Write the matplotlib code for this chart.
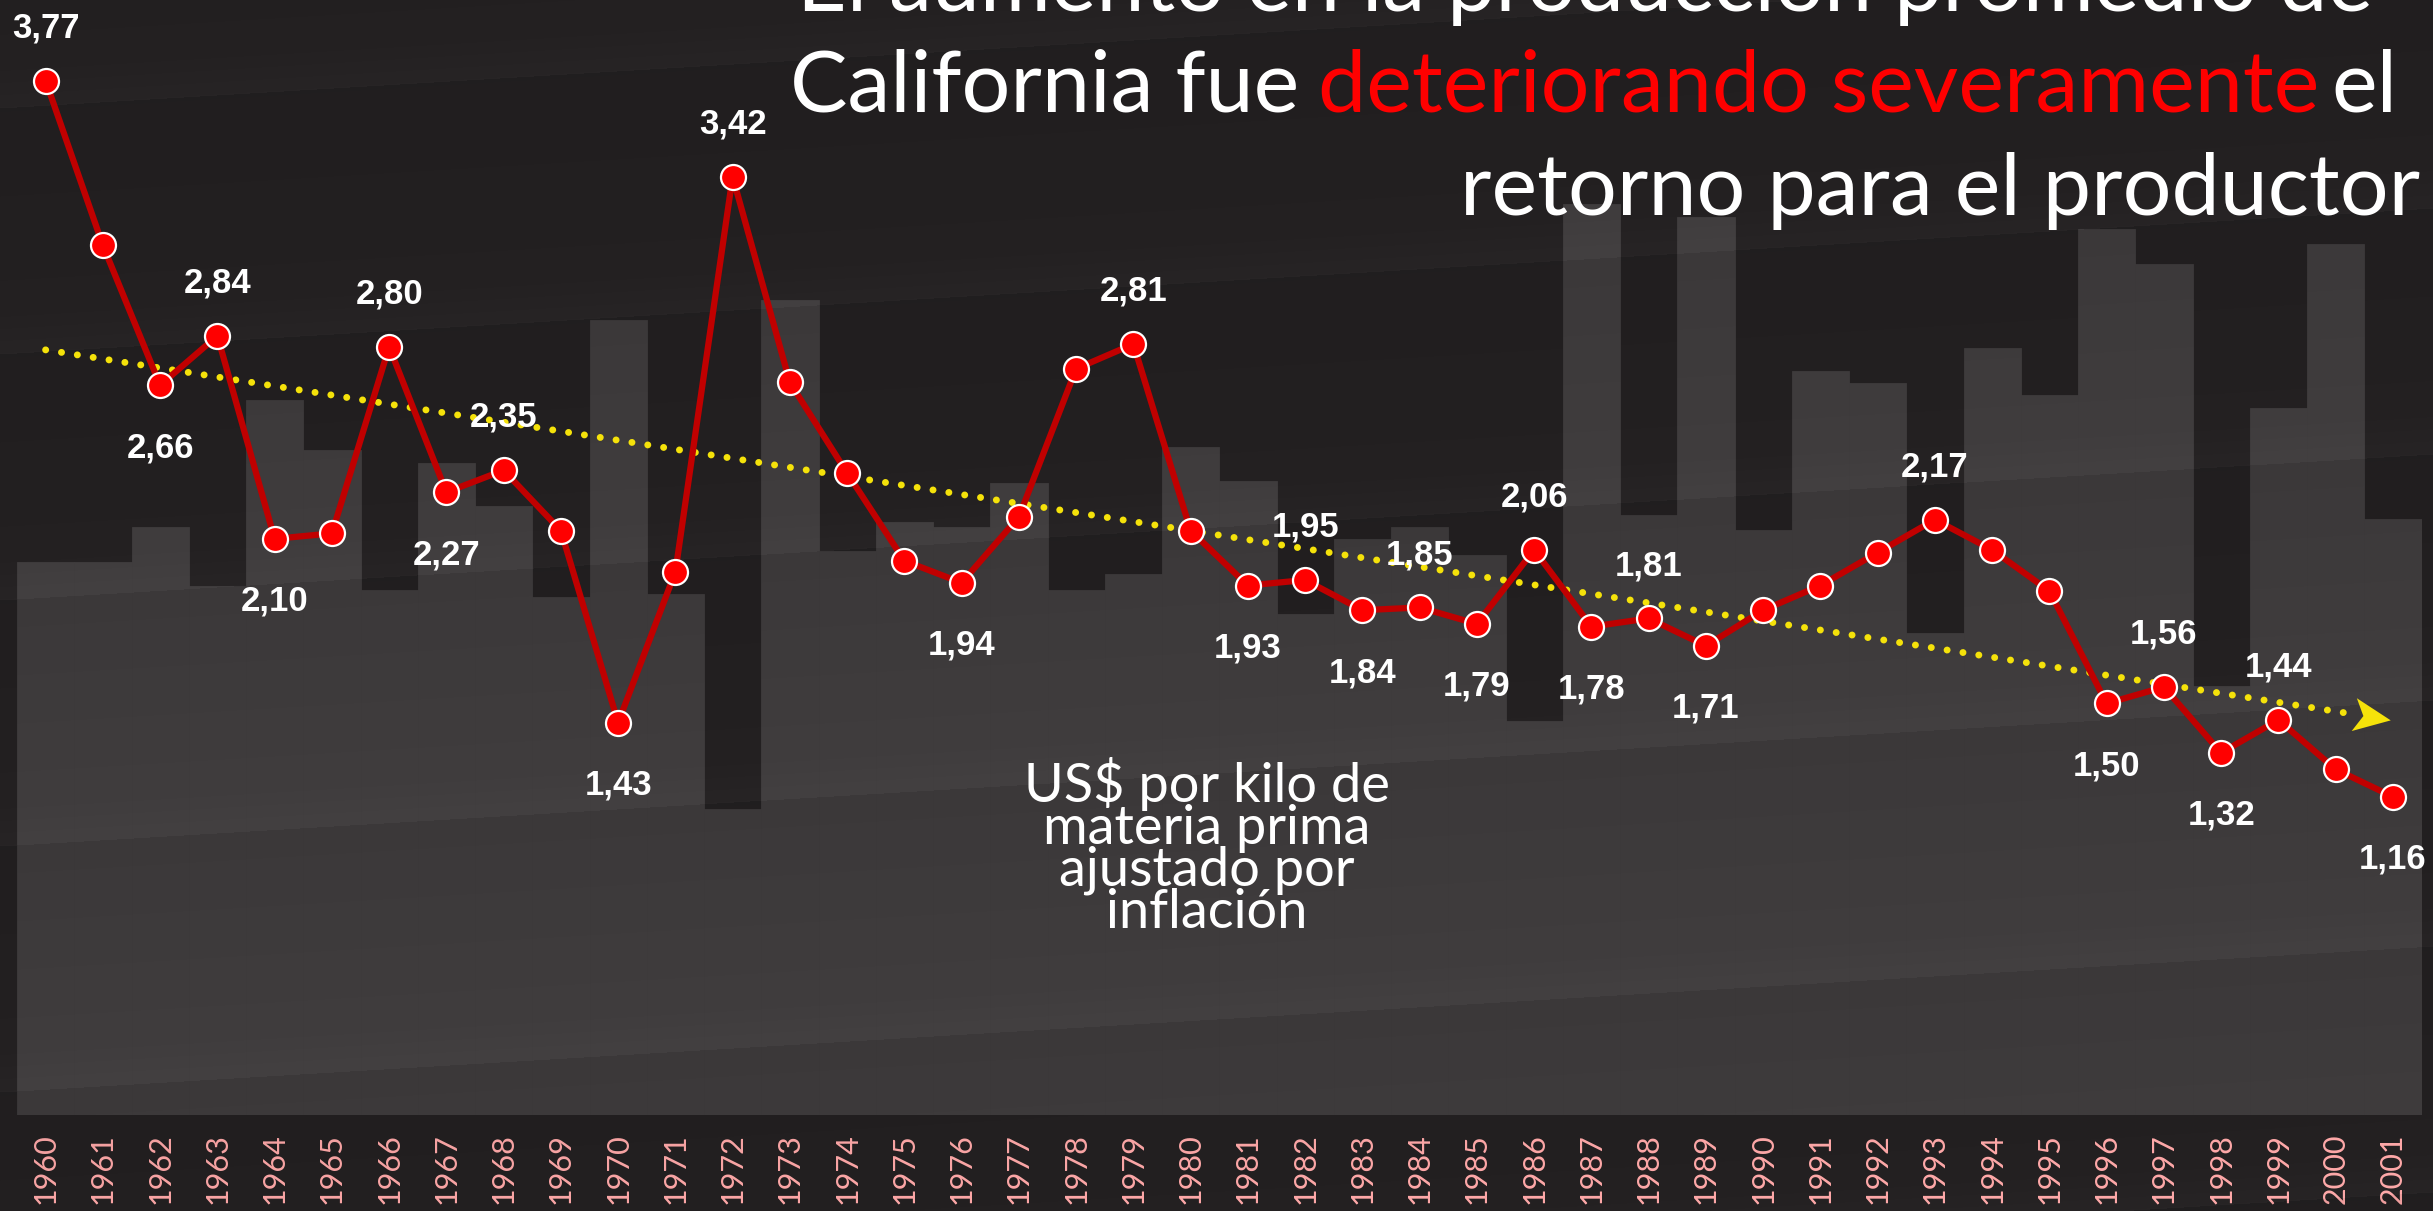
import numpy as np
import matplotlib.pyplot as plt
from matplotlib.path import Path

# Datos
anios = list(range(1960, 2002))
precio = [3.77, 3.17, 2.66, 2.84, 2.10, 2.12, 2.80, 2.27, 2.35, 2.13,
          1.43, 1.98, 3.42, 2.67, 2.34, 2.02, 1.94, 2.18, 2.72, 2.81,
          2.13, 1.93, 1.95, 1.84, 1.85, 1.79, 2.06, 1.78, 1.81, 1.71,
          1.84, 1.93, 2.05, 2.17, 2.06, 1.91, 1.50, 1.56, 1.32, 1.44,
          1.26, 1.16]
# produccion (escala relativa, sin eje en el original)
produccion = [5.53, 5.53, 5.88, 5.29, 7.15, 6.65, 5.25, 6.52, 6.09, 5.18,
              7.95, 5.21, 3.06, 8.15, 5.64, 5.93, 5.88, 6.32, 5.25, 5.41,
              6.68, 6.34, 5.01, 5.76, 5.88, 5.60, 3.94, 9.11, 6.00, 8.98,
              5.85, 7.44, 7.32, 4.82, 7.67, 7.20, 8.86, 8.51, 4.29, 7.07,
              8.71, 5.96]
arriba = [1960, 1963, 1966, 1968, 1972, 1979, 1982, 1984, 1986, 1988, 1993, 1997, 1999]
abajo = [1962, 1964, 1967, 1970, 1976, 1981, 1983, 1985, 1987, 1989, 1996, 1998, 2001]

W, H = 2433, 1211
FONDO = '#232021'
BARRA = '#3f3c3d'
fuente = ['Lato', 'DejaVu Sans']
fuente_num = ['Liberation Sans', 'DejaVu Sans']


def px(x, y):
    # pixeles de la imagen -> fraccion de figura
    return x / W, 1 - y / H


fig = plt.figure(figsize=(W / 100, H / 100), dpi=100, facecolor=FONDO)

# barras de produccion
ax = fig.add_axes([17 / W, 96 / H, 2404.5 / W, 1115 / H])
ax.set_facecolor('none')
ax.bar(anios, produccion, width=1.0, color=BARRA, edgecolor=BARRA, linewidth=0.6)
ax.set_xlim(1959.5, 2001.5)
ax.set_ylim(0, 11.15)
ax.set_xticks(anios)
ax.set_xticklabels([str(a) for a in anios], rotation=90, family=fuente)
ax.tick_params(axis='x', length=0, pad=13, labelsize=22, labelcolor='#ffa9a9')
ax.set_yticks([])
for s in ax.spines.values():
    s.set_visible(False)

# brillo diagonal del fondo
capa = fig.add_axes([0, 0, 1, 1], zorder=0.5)
capa.axis('off')
yy, xx = np.mgrid[0:H, 0:W]
t = ((yy + 0.06 * xx - 108) % 246) / 246
d = -0.06 + 0.08 * t
img = np.zeros((H, W, 4))
img[..., :3] = (d > 0)[..., None] * 1.0
img[..., 3] = np.abs(d)
capa.imshow(img, extent=(0, W, H, 0), aspect='auto', interpolation='bilinear')
capa.set_xlim(0, W)
capa.set_ylim(H, 0)

# precio por kilo
ax2 = ax.twinx()
ax2.set_zorder(1)
ax2.set_ylim(0, 1115 / 274.35)
ax2.set_yticks([])
for s in ax2.spines.values():
    s.set_visible(False)

pend, orig = np.polyfit(anios, precio, 1)
xt = np.array([1960, 2000.32])
ax2.plot(xt, pend * xt + orig, color='#f5e20a', lw=5, ls=(0, (0.01, 2.3)),
         dash_capstyle='round', zorder=2)

# punta de flecha de la tendencia
ang = np.arctan(pend * 274.35 / 57.25)
base = np.array([(1, 0), (-1, 0.9), (-0.5, 0), (-1, -0.9), (1, 0)])
rot = np.array([[np.cos(ang), -np.sin(ang)], [np.sin(ang), np.cos(ang)]])
verts = base @ rot.T
flecha = Path(verts, [Path.MOVETO, Path.LINETO, Path.LINETO, Path.LINETO, Path.CLOSEPOLY])
xf = 2000.63
ax2.plot([xf], [pend * xf + orig], marker=flecha, ms=30, color='#f5e20a',
         mec='none', zorder=2)

ax2.plot(anios, precio, color='#c00000', lw=4.5, zorder=3)
ax2.plot(anios, precio, ls='none', marker='o', ms=18, mfc='#ff0000',
         mec='white', mew=1.6, zorder=4)

for a, v in zip(anios, precio):
    if a in arriba:
        off = 38
    elif a in abajo:
        off = -45
    else:
        continue
    ax2.annotate(f'{v:.2f}'.replace('.', ','), (a, v), xytext=(0, off),
                 textcoords='offset points', ha='center', va='center',
                 color='white', fontsize=25, fontweight='bold', family=fuente_num)

# titulo
kw = dict(fontsize=62, color='white', family=fuente, va='baseline', ha='left')
fig.text(*px(797, 11), 'El aumento en la producción promedio de', **kw)
fig.text(*px(790, 112), 'California fue', **kw)
fig.text(*px(1318, 112), 'deteriorando severamente', **{**kw, 'color': '#ff0000'})
fig.text(*px(2331, 112), 'el', **kw)
fig.text(*px(1460, 215), 'retorno para el productor', **kw)

# va='baseline' en texto de varias lineas se alinea con la ultima linea
fig.text(*px(1207, 928), 'US$ por kilo de\nmateria prima\najustado por\ninflación',
         ha='center', va='baseline', multialignment='center', fontsize=39,
         linespacing=0.82, color='white', family=fuente)

fig.savefig('out.png', dpi=100, facecolor=FONDO)
